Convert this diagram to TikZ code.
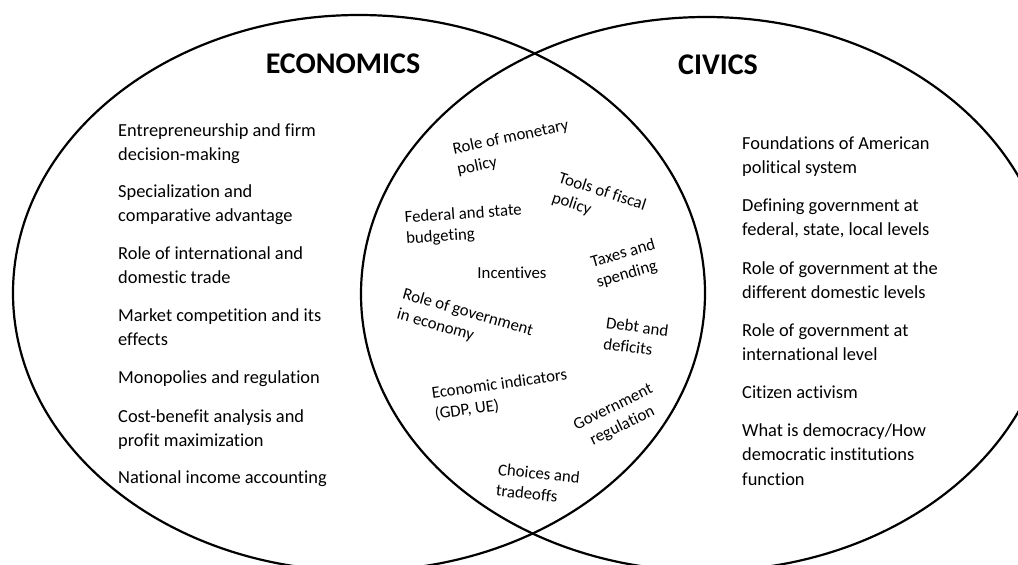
\documentclass[tikz,border=0pt]{standalone}
\usepackage{fontspec}
\setmainfont{Carlito}[Ligatures=NoCommon]
\begin{document}
\begin{tikzpicture}[x=1pt,y=-1pt,
  ring/.style={line width=2.2pt, black},
  title/.style={inner sep=0pt, font=\fontsize{30}{36}\selectfont\bfseries},
  item/.style={anchor=north west, inner sep=0pt, align=left,
               font=\fontsize{18.4}{24.5}\selectfont},
  shared/.style={inner sep=0pt, align=left,
                 font=\fontsize{16.8}{21}\selectfont}]
\useasboundingbox (0,0) rectangle (1018,565);

% the two overlapping sets
\begin{scope}
  \clip (0,0) rectangle (1018,565);
  \draw[ring] (359,293) ellipse [x radius=346, y radius=278];
  \draw[ring] (706,294) ellipse [x radius=345, y radius=277];
\end{scope}

% headings
\node[title] (econ) at (343,64) {ECONOMICS};
\node[title] (civ)  at (718,65) {CIVICS};

% economics only
\node[item] (e1) at (118,123.5) {Entrepreneurship and firm\\decision-making};
\node[item] (e2) at (118,184.5) {Specialization and\\comparative advantage};
\node[item] (e3) at (118,246.5) {Role of international and\\domestic trade};
\node[item] (e4) at (118,308.5) {Market competition and its\\effects};
\node[item] (e5) at (118,370.5) {Monopolies and regulation};
\node[item] (e6) at (118,409.5) {Cost-benefit analysis and\\profit maximization};
\node[item] (e7) at (118,470.5) {National income accounting};

% civics only
\node[item] (c1) at (742,136.5) {Foundations of American\\political system};
\node[item] (c2) at (742,198.5) {Defining government at\\federal, state, local levels};
\node[item] (c3) at (742,261.5) {Role of government at the\\different domestic levels};
\node[item] (c4) at (742,323.5) {Role of government at\\international level};
\node[item] (c5) at (742,385.5) {Citizen activism};
\node[item] (c6) at (742,423.5) {What is democracy/How\\democratic institutions\\function};

% shared topics
\node[shared, rotate=12]  (s1)  at (513,148) {Role of monetary\\policy};
\node[shared, rotate=-18] (s2)  at (599,202) {Tools of fiscal\\policy};
\node[shared, rotate=4]   (s3)  at (464,225) {Federal and state\\budgeting};
\node[shared]             (s4)  at (512,273) {Incentives};
\node[shared, rotate=16]  (s5)  at (626,264) {Taxes and\\spending};
\node[shared, rotate=-16] (s6)  at (465,323) {Role of government\\in economy};
\node[shared, rotate=-7.5](s7)  at (636,337) {Debt and\\deficits};
\node[shared, rotate=8]   (s8)  at (501,395) {Economic indicators\\(GDP, UE)};
\node[shared, rotate=26, align=center] (s9) at (618,417) {Government\\regulation};
\node[shared, rotate=-6]  (s10) at (538,484) {Choices and\\tradeoffs};
\end{tikzpicture}
\end{document}
